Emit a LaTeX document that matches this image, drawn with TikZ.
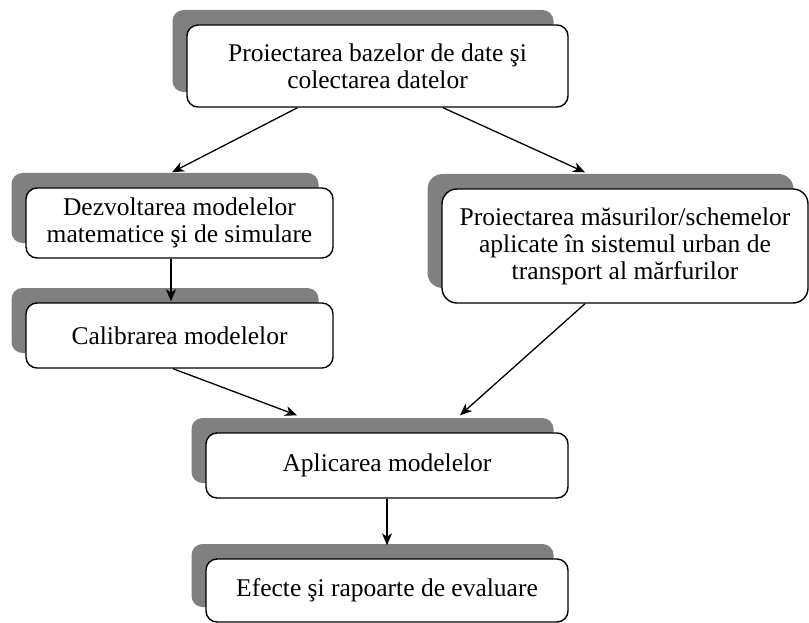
\documentclass[tikz,border=0pt]{standalone}
\usepackage{fontspec}
\setmainfont{Liberation Serif}
\usetikzlibrary{shadows,arrows.meta}
\definecolor{shadowgray}{HTML}{808080}
\tikzset{
  stagebox/.style={draw=black, line width=1.4pt, rounded corners=11pt, fill=white,
    align=center, inner sep=0pt,
    font=\fontsize{25.5}{27}\selectfont,
    general shadow={fill=shadowgray, shadow xshift=-14.5pt, shadow yshift=15pt}},
  flow/.style={line width=1.3pt, -{Stealth[length=12pt,width=10pt,inset=3.5pt]}}
}
\begin{document}
\begin{tikzpicture}[x=1pt,y=-1pt]
\useasboundingbox (0,0) rectangle (809,623);
\node[stagebox, minimum width=381pt, minimum height=82pt] (top) at (377.5,66)
  {Proiectarea bazelor de date şi\\colectarea datelor};
\node[stagebox, minimum width=307pt, minimum height=70pt] (dez) at (179.5,223)
  {Dezvoltarea modelelor\\matematice şi de simulare};
\node[stagebox, minimum width=307pt, minimum height=65pt] (cal) at (179.5,335.5)
  {Calibrarea modelelor};
\node[stagebox, minimum width=366pt, minimum height=114pt, rounded corners=15pt] (right) at (625,246)
  {Proiectarea măsurilor/schemelor\\aplicate în sistemul urban de\\transport al mărfurilor};
\node[stagebox, minimum width=362pt, minimum height=65pt] (apl) at (387,465.5)
  {Aplicarea modelelor};
\node[stagebox, minimum width=362pt, minimum height=63pt] (eff) at (387,590.5)
  {Efecte şi rapoarte de evaluare};
\draw[flow] ([xshift=-80pt]top.south) -- ([xshift=-7.5pt,yshift=15pt]dez.north);
\draw[flow] ([xshift=65.5pt]top.south) -- ([xshift=-40pt,yshift=16pt]right.north);
\draw[flow] ([xshift=-8.5pt]dez.south) -- ([xshift=-8.5pt,yshift=1pt]cal.north);
\draw[flow] ([xshift=-6.5pt]cal.south) -- ([xshift=-90pt,yshift=17pt]apl.north);
\draw[flow] ([xshift=-40pt]right.south) -- ([xshift=73pt,yshift=17pt]apl.north);
\draw[flow] (apl.south) -- ([yshift=13pt]eff.north);
\end{tikzpicture}
\end{document}
